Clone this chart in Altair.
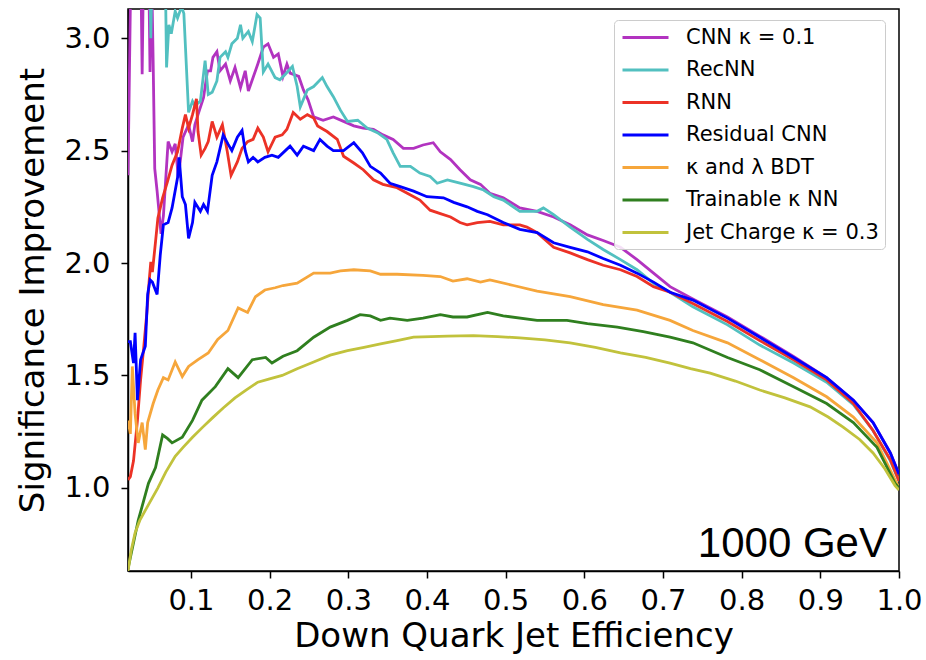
import altair as alt
import pandas as pd

SERIES = ["CNN κ = 0.1", "RecNN", "RNN", "Residual CNN", "κ and λ BDT",
          "Trainable κ NN", "Jet Charge κ = 0.3"]
COLORS = ["#b233c0", "#52c0c0", "#ec3226", "#0000ff", "#f6a63b", "#2f7f1f", "#c1c23c"]

X_TICKS = [0.1, 0.2, 0.3, 0.4, 0.5, 0.6, 0.7, 0.8, 0.9, 1.0]
Y_TICKS = [1.0, 1.5, 2.0, 2.5, 3.0]

cnn_x = [0.020, 0.024, 0.036, 0.038, 0.040, 0.046, 0.048, 0.050, 0.052, 0.054,
         0.057, 0.062, 0.065, 0.067, 0.071, 0.076, 0.080, 0.084, 0.090, 0.097,
         0.102, 0.105, 0.109, 0.116, 0.121, 0.125, 0.128, 0.133, 0.137, 0.144,
         0.150, 0.156, 0.163, 0.169, 0.173, 0.179, 0.185, 0.192, 0.198, 0.205,
         0.211, 0.217, 0.222, 0.226, 0.237, 0.243, 0.249, 0.256, 0.268, 0.281,
         0.294, 0.307, 0.319, 0.332, 0.344, 0.357, 0.370, 0.383, 0.395, 0.408,
         0.417, 0.430, 0.442, 0.455, 0.468, 0.480, 0.497, 0.518, 0.540, 0.561,
         0.582, 0.604, 0.624, 0.646, 0.667, 0.688, 0.709, 0.738, 0.782, 0.823,
         0.866, 0.908, 0.942, 0.967, 0.989, 1.000]
cnn_y = [2.39, 3.40, 3.40, 2.84, 3.40, 3.40, 2.85, 3.30, 2.89, 2.42,
         2.32, 2.13, 2.21, 2.32, 2.54, 2.495, 2.53, 2.38, 2.56, 2.615,
         2.54, 2.615, 2.66, 2.735, 2.855, 2.855, 2.915, 2.94, 2.855, 2.885,
         2.81, 2.87, 2.78, 2.855, 2.765, 2.825, 2.885, 2.96, 2.975, 2.915,
         2.93, 2.83, 2.885, 2.845, 2.83, 2.77, 2.725, 2.65, 2.635, 2.65,
         2.63, 2.61, 2.60, 2.595, 2.57, 2.55, 2.51, 2.51, 2.525, 2.535,
         2.495, 2.46, 2.415, 2.37, 2.35, 2.31, 2.29, 2.245, 2.23, 2.205,
         2.17, 2.125, 2.10, 2.07, 2.015, 1.955, 1.895, 1.84, 1.76, 1.675,
         1.585, 1.49, 1.39, 1.29, 1.155, 1.06]

recnn_x = [0.020, 0.047, 0.049, 0.051, 0.067, 0.069, 0.072, 0.075, 0.080, 0.083,
           0.088, 0.091, 0.097, 0.102, 0.105, 0.112, 0.118, 0.122, 0.127, 0.133,
           0.137, 0.144, 0.147, 0.152, 0.159, 0.163, 0.166, 0.173, 0.178, 0.184,
           0.188, 0.192, 0.198, 0.207, 0.213, 0.220, 0.229, 0.235, 0.239, 0.248,
           0.256, 0.267, 0.273, 0.281, 0.290, 0.299, 0.312, 0.324, 0.337, 0.349,
           0.357, 0.366, 0.379, 0.391, 0.404, 0.413, 0.426, 0.442, 0.459, 0.472,
           0.485, 0.497, 0.518, 0.540, 0.548, 0.561, 0.582, 0.604, 0.624, 0.646,
           0.667, 0.688, 0.709, 0.738, 0.782, 0.823, 0.866, 0.908, 0.942, 0.967,
           0.989, 1.000]
recnn_y = [3.40, 3.40, 3.00, 3.40, 3.40, 2.87, 3.06, 3.02, 3.12, 3.09,
           3.14, 3.11, 2.67, 2.72, 2.70, 2.72, 2.90, 2.75, 2.76, 2.81,
           2.915, 2.94, 2.915, 2.975, 3.00, 3.06, 3.00, 3.03, 2.985, 3.105,
           3.09, 2.85, 2.885, 2.825, 2.815, 2.84, 2.875, 2.785, 2.695, 2.77,
           2.785, 2.825, 2.785, 2.74, 2.68, 2.63, 2.635, 2.60, 2.58, 2.55,
           2.49, 2.43, 2.43, 2.40, 2.385, 2.355, 2.37, 2.355, 2.34, 2.325,
           2.295, 2.28, 2.23, 2.23, 2.245, 2.215, 2.16, 2.105, 2.06, 2.015,
           1.97, 1.91, 1.87, 1.805, 1.725, 1.635, 1.555, 1.47, 1.37, 1.255,
           1.12, 1.03]

rnn_x = [0.020, 0.023, 0.027, 0.032, 0.036, 0.040, 0.044, 0.047, 0.049, 0.051,
         0.055, 0.058, 0.064, 0.070, 0.076, 0.083, 0.089, 0.093, 0.097, 0.102,
         0.107, 0.109, 0.113, 0.118, 0.122, 0.127, 0.133, 0.140, 0.146, 0.151,
         0.159, 0.165, 0.172, 0.179, 0.185, 0.192, 0.198, 0.207, 0.216, 0.222,
         0.230, 0.239, 0.248, 0.256, 0.261, 0.273, 0.286, 0.294, 0.307, 0.319,
         0.332, 0.344, 0.362, 0.375, 0.391, 0.404, 0.417, 0.430, 0.442, 0.451,
         0.464, 0.480, 0.497, 0.518, 0.527, 0.540, 0.561, 0.582, 0.604, 0.624,
         0.646, 0.667, 0.688, 0.709, 0.738, 0.782, 0.823, 0.866, 0.908, 0.942,
         0.967, 0.989, 1.000]
rnn_y = [1.035, 1.05, 1.12, 1.30, 1.48, 1.625, 1.78, 1.925, 2.005, 1.96,
         2.095, 2.20, 2.29, 2.36, 2.435, 2.495, 2.60, 2.66, 2.60, 2.66,
         2.73, 2.585, 2.48, 2.51, 2.54, 2.63, 2.56, 2.615, 2.50, 2.39,
         2.45, 2.51, 2.54, 2.55, 2.60, 2.56, 2.495, 2.56, 2.57, 2.595,
         2.67, 2.64, 2.66, 2.645, 2.61, 2.585, 2.55, 2.475, 2.445, 2.415,
         2.37, 2.35, 2.335, 2.31, 2.28, 2.235, 2.22, 2.205, 2.18, 2.17,
         2.18, 2.185, 2.17, 2.17, 2.16, 2.135, 2.07, 2.045, 2.015, 1.99,
         1.97, 1.94, 1.895, 1.87, 1.82, 1.74, 1.655, 1.57, 1.48, 1.375,
         1.255, 1.125, 1.03]

rescnn_x = [0.020, 0.023, 0.027, 0.029, 0.032, 0.036, 0.042, 0.045, 0.048, 0.051,
            0.057, 0.061, 0.065, 0.071, 0.076, 0.083, 0.085, 0.089, 0.093, 0.097,
            0.102, 0.105, 0.112, 0.116, 0.121, 0.127, 0.133, 0.141, 0.147, 0.152,
            0.159, 0.165, 0.169, 0.173, 0.179, 0.185, 0.194, 0.203, 0.211, 0.220,
            0.226, 0.235, 0.243, 0.256, 0.264, 0.273, 0.281, 0.294, 0.307, 0.318,
            0.328, 0.341, 0.353, 0.366, 0.383, 0.400, 0.421, 0.434, 0.451, 0.464,
            0.477, 0.497, 0.518, 0.540, 0.561, 0.582, 0.604, 0.624, 0.646, 0.667,
            0.688, 0.709, 0.738, 0.782, 0.823, 0.866, 0.908, 0.942, 0.967, 0.989,
            1.000]
rescnn_y = [1.65, 1.65, 1.555, 1.69, 1.39, 1.57, 1.63, 1.86, 1.925, 1.915,
            1.86, 2.035, 2.17, 2.18, 2.245, 2.38, 2.47, 2.295, 2.26, 2.11,
            2.18, 2.27, 2.23, 2.26, 2.23, 2.39, 2.45, 2.57, 2.53, 2.50,
            2.56, 2.59, 2.50, 2.45, 2.47, 2.45, 2.47, 2.48, 2.47, 2.50,
            2.52, 2.48, 2.52, 2.50, 2.55, 2.52, 2.50, 2.50, 2.535, 2.49,
            2.43, 2.40, 2.355, 2.34, 2.32, 2.295, 2.29, 2.27, 2.25, 2.23,
            2.215, 2.18, 2.15, 2.135, 2.09, 2.07, 2.05, 2.02, 1.99, 1.955,
            1.915, 1.87, 1.835, 1.755, 1.67, 1.58, 1.49, 1.39, 1.29, 1.155,
            1.06]

bdt_x = [0.020, 0.023, 0.0255, 0.029, 0.033, 0.038, 0.042, 0.045, 0.052, 0.058,
         0.065, 0.071, 0.080, 0.089, 0.097, 0.109, 0.122, 0.134, 0.147, 0.160,
         0.172, 0.182, 0.194, 0.207, 0.217, 0.235, 0.256, 0.277, 0.290, 0.307,
         0.328, 0.341, 0.362, 0.395, 0.417, 0.433, 0.451, 0.468, 0.480, 0.510,
         0.540, 0.582, 0.624, 0.667, 0.709, 0.738, 0.782, 0.823, 0.866, 0.908,
         0.942, 0.972, 0.995, 1.000]
bdt_y = [1.30, 1.24, 1.54, 1.33, 1.20, 1.29, 1.17, 1.29, 1.375, 1.435,
         1.49, 1.48, 1.56, 1.495, 1.54, 1.57, 1.60, 1.66, 1.70, 1.80,
         1.78, 1.85, 1.88, 1.89, 1.90, 1.91, 1.955, 1.955, 1.965, 1.97,
         1.965, 1.95, 1.95, 1.945, 1.94, 1.92, 1.93, 1.915, 1.925, 1.90,
         1.875, 1.85, 1.815, 1.79, 1.745, 1.70, 1.645, 1.57, 1.49, 1.405,
         1.315, 1.20, 1.035, 1.00]

tnn_x = [0.020, 0.033, 0.046, 0.055, 0.064, 0.070, 0.076, 0.089, 0.102, 0.114,
         0.131, 0.147, 0.160, 0.178, 0.195, 0.203, 0.217, 0.235, 0.256, 0.277,
         0.299, 0.315, 0.328, 0.341, 0.353, 0.375, 0.395, 0.417, 0.433, 0.451,
         0.477, 0.497, 0.540, 0.578, 0.604, 0.642, 0.675, 0.709, 0.738, 0.782,
         0.823, 0.866, 0.908, 0.942, 0.972, 0.995, 1.000]
tnn_y = [0.64, 0.855, 1.02, 1.09, 1.235, 1.22, 1.20, 1.225, 1.30, 1.39,
         1.45, 1.53, 1.49, 1.57, 1.58, 1.555, 1.585, 1.61, 1.67, 1.715,
         1.745, 1.77, 1.765, 1.745, 1.755, 1.745, 1.755, 1.77, 1.76, 1.76,
         1.78, 1.765, 1.745, 1.745, 1.73, 1.715, 1.695, 1.67, 1.645, 1.58,
         1.525, 1.45, 1.375, 1.29, 1.18, 1.02, 1.00]

jc_x = [0.020, 0.024, 0.029, 0.035, 0.042, 0.050, 0.058, 0.068, 0.080, 0.090,
        0.102, 0.115, 0.127, 0.141, 0.156, 0.170, 0.185, 0.200, 0.216, 0.235,
        0.256, 0.277, 0.299, 0.320, 0.341, 0.362, 0.383, 0.405, 0.426, 0.459,
        0.490, 0.518, 0.550, 0.582, 0.614, 0.646, 0.678, 0.709, 0.735, 0.760,
        0.792, 0.823, 0.855, 0.887, 0.910, 0.929, 0.950, 0.967, 0.982, 0.995,
        1.000]
jc_y = [0.63, 0.72, 0.80, 0.855, 0.90, 0.95, 1.00, 1.07, 1.14, 1.18,
        1.225, 1.27, 1.31, 1.355, 1.40, 1.435, 1.47, 1.485, 1.50, 1.53,
        1.56, 1.59, 1.61, 1.625, 1.64, 1.655, 1.67, 1.673, 1.675, 1.677,
        1.673, 1.667, 1.658, 1.645, 1.625, 1.60, 1.58, 1.555, 1.53, 1.51,
        1.475, 1.435, 1.40, 1.36, 1.315, 1.27, 1.215, 1.155, 1.085, 1.01,
        0.99]

ALL_X = [cnn_x, recnn_x, rnn_x, rescnn_x, bdt_x, tnn_x, jc_x]
ALL_Y = [cnn_y, recnn_y, rnn_y, rescnn_y, bdt_y, tnn_y, jc_y]

rows = []
for name, xs, ys in zip(SERIES, ALL_X, ALL_Y):
    assert len(xs) == len(ys), name
    for i, (x, y) in enumerate(zip(xs, ys)):
        rows.append({"series": name, "eff": x, "sig": y, "idx": i})
df = pd.DataFrame(rows)

FONT = "DejaVu Sans"

lines = alt.Chart(df).mark_line(clip=True, strokeWidth=2.8).encode(
    x=alt.X("eff:Q",
            scale=alt.Scale(domain=[0.02, 1.0], nice=False, zero=False),
            axis=alt.Axis(values=X_TICKS, format=".1f", title="Down Quark Jet Efficiency",
                          labelFlush=False, labelPadding=8, titleY=75,
                          titleBaseline="alphabetic")),
    y=alt.Y("sig:Q",
            scale=alt.Scale(domain=[0.63, 3.13], nice=False, zero=False),
            axis=alt.Axis(values=Y_TICKS, format=".1f", title="Significance Improvement",
                          labelPadding=11, titleX=-85, titleY=281,
                          titleBaseline="alphabetic")),
    color=alt.Color("series:N",
                    scale=alt.Scale(domain=SERIES, range=COLORS),
                    legend=alt.Legend(title=None, orient="none", legendX=486, legendY=11,
                                      fillColor="rgba(255,255,255,0.85)", strokeColor="#cccccc",
                                      cornerRadius=4, padding=6,
                                      symbolType="M-2.3,0L2.3,0", symbolSize=400,
                                      symbolOffset=14, symbolStrokeWidth=3,
                                      labelFontSize=21, labelFont=FONT, labelColor="#000000",
                                      labelLimit=0, rowPadding=10.5, labelOffset=29)),
    order=alt.Order("idx:Q"),
)

note = alt.Chart(pd.DataFrame({"t": ["1000 GeV"]})).mark_text(
    align="right", baseline="alphabetic", font="Liberation Sans", fontSize=42, color="#000000"
).encode(text="t:N", x=alt.value(759), y=alt.value(548))

chart = alt.layer(lines, note).properties(
    width=771, height=562,
    autosize=alt.AutoSizeParams(type="none"),
    padding={"left": 128, "top": 9, "right": 27, "bottom": 89},
    background="white",
).configure_view(
    stroke="#000000", strokeWidth=1.5
).configure_axis(
    labelFont=FONT, labelFontSize=29, labelColor="#000000",
    titleFont=FONT, titleFontSize=34, titleFontWeight="normal", titleColor="#000000",
    domainColor="#000000", domainWidth=1.5, tickColor="#000000", tickWidth=1.5,
    tickSize=7, grid=False,
)

chart.save("out.html", embed_options={"renderer": "svg", "actions": False})
